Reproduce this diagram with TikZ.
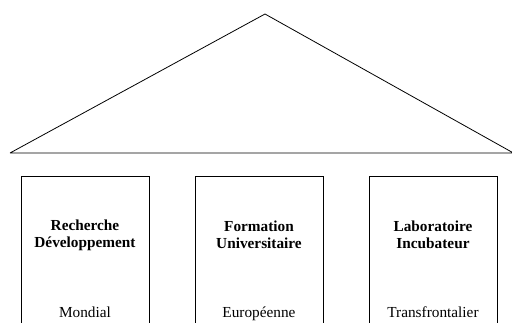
\documentclass[tikz,border=0pt]{standalone}
\usepackage{fontspec}
\setmainfont{Liberation Serif}
\begin{document}
\begin{tikzpicture}[x=1pt,y=-1pt,
  pillar/.style={draw=black,line width=0.8pt,minimum width=128pt,minimum height=170pt,inner sep=0pt,anchor=north},
  titletext/.style={font=\fontsize{15.3}{17}\selectfont\bfseries,align=center,inner sep=0pt},
  placetext/.style={font=\fontsize{15.3}{17}\selectfont,anchor=base,inner sep=0pt}]
\useasboundingbox (0,0) rectangle (512,322);
\clip (0,0) rectangle (512,322);
\draw[line width=0.8pt,line join=miter] (10,153) -- (265,14) -- (517,155) (10,153) -- (517,153);
\node[pillar] (p1) at (85,176) {};
\node[pillar] (p2) at (259,176) {};
\node[pillar] (p3) at (433,176) {};
\node[titletext] (t1) at (85,235) {Recherche\\Développement};
\node[titletext] (t2) at (259,235) {Formation\\Universitaire};
\node[titletext] (t3) at (433,235) {Laboratoire\\Incubateur};
\node[placetext] (s1) at (85,317.5) {Mondial};
\node[placetext] (s2) at (259,317.5) {Européenne};
\node[placetext] (s3) at (433,317.5) {Transfrontalier};
\end{tikzpicture}
\end{document}
